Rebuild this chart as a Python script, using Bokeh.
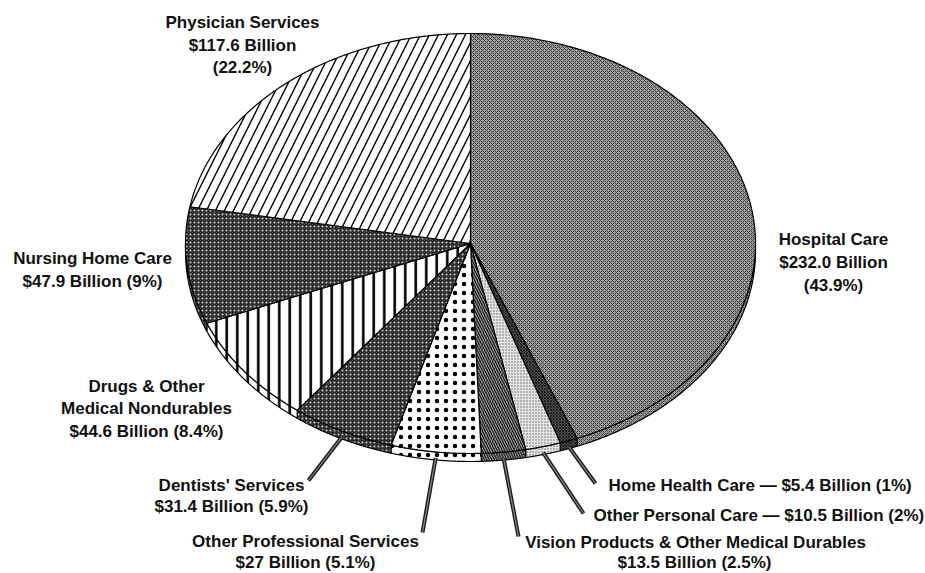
import numpy as np
from bokeh.plotting import figure
from bokeh.models import Range1d, ColumnDataSource
from bokeh.core.properties import value
from bokeh.embed import file_html
from bokeh.resources import INLINE

# ---- data (clockwise from 12 o'clock) ----
categories = ["Hospital Care", "Home Health Care", "Other Personal Care",
              "Vision Products & Other Medical Durables", "Other Professional Services",
              "Dentists' Services", "Drugs & Other Medical Nondurables",
              "Nursing Home Care", "Physician Services"]
billions = [232.0, 5.4, 10.5, 13.5, 27, 31.4, 44.6, 47.9, 117.6]
percents = [43.9, 1, 2, 2.5, 5.1, 5.9, 8.4, 9, 22.2]

# ---- styles ----
fills = ["#9a9a9a", "#4a4a4a", "#e4e4e4", "#b4b4b4", "white", "#2e2e2e", "white", "#2e2e2e", "white"]
hatches = ["x", "x", ".", "\\", ".", ".", "|", ".", "/"]
hcolors = ["#444444", "#222222", "#666666", "#2a2a2a", "black", "#d0d0d0", "black", "#d0d0d0", "black"]
hscales = [4, 3, 3, 5, 9, 4, 10.5, 4, 18]
hweights = [1, 1, 1, 1.6, 2.6, 1, 2.6, 1, 1.4]

# ---- geometry (layout) ----
CX, CY, A, B, D = 470.0, 243.0, 285.0, 210.0, 8.0

def ell(t, dy=0.0):
    return CX + A * np.cos(t), CY - B * np.sin(t) + dy

p = figure(width=925, height=573, x_range=Range1d(0, 925), y_range=Range1d(573, 0),
           output_backend="svg", toolbar_location=None, min_border=0,
           background_fill_color="white", border_fill_color="white")
p.axis.visible = False
p.grid.visible = False
p.outline_line_color = None

frac = np.array(percents) / sum(percents)
cum = np.concatenate([[0], np.cumsum(frac)])
starts = np.pi / 2 - 2 * np.pi * cum[:-1]
ends = np.pi / 2 - 2 * np.pi * cum[1:]

# 3D edge band (lower half)
bx, by, bi = [], [], []
for i, (s, e) in enumerate(zip(starts, ends)):
    ts = np.linspace(e, s, 200)
    ts = np.arctan2(np.sin(ts), np.cos(ts))
    ts = ts[(ts <= 0) & (ts >= -np.pi)]
    if len(ts) < 2:
        continue
    ts = np.sort(ts)
    x1, y1 = ell(ts, D)
    x2, y2 = ell(ts[::-1])
    bx.append(list(x1) + list(x2))
    by.append(list(y1) + list(y2))
    bi.append(i)
p.patches(bx, by, fill_color=[fills[i] for i in bi],
          hatch_pattern=[hatches[i] for i in bi], hatch_color=[hcolors[i] for i in bi],
          hatch_scale=[hscales[i] for i in bi], hatch_weight=[hweights[i] for i in bi],
          line_color="black", line_width=1.2)

# slices
xs, ys = [], []
for s, e in zip(starts, ends):
    ts = np.linspace(s, e, 300)
    x, y = ell(ts)
    xs.append([CX] + list(x))
    ys.append([CY] + list(y))
src = ColumnDataSource(dict(xs=xs, ys=ys, fill=fills, hatch=hatches, hc=hcolors,
                            hs=hscales, hw=hweights))
p.patches("xs", "ys", source=src, fill_color="fill", hatch_pattern="hatch",
          hatch_color="hc", hatch_scale="hs", hatch_weight="hw",
          line_color="black", line_width=1.2)

# leader lines for small / lower slices
leader_idx = [5, 4, 3, 2, 1]
leader_end = [(308, 480), (422, 532), (518, 536), (583, 513), (595, 483)]
lx, ly = [], []
for i, (ex, ey) in zip(leader_idx, leader_end):
    m = (starts[i] + ends[i]) / 2
    sx, sy = ell(m, D - 2)
    lx.append([sx, ex])
    ly.append([sy, ey])
p.multi_line(lx, ly, line_color="#1a1a1a", line_width=4)
p.multi_line(lx, ly, line_color="#8a8a8a", line_width=1.2)

# labels
FONT = value("Liberation Sans")
lab_text = ["Physician Services", "$117.6 Billion", "(22.2%)",
            "Hospital Care", "$232.0 Billion", "(43.9%)",
            "Nursing Home Care", "$47.9 Billion (9%)",
            "Drugs & Other", "Medical Nondurables", "$44.6 Billion (8.4%)",
            "Dentists' Services", "$31.4 Billion (5.9%)",
            "Other Professional Services", "$27 Billion (5.1%)",
            "Vision Products & Other Medical Durables", "$13.5 Billion (2.5%)"]
lab_x = [242, 242, 242, 833, 833, 833, 92, 92, 146, 146, 146, 231, 231, 305, 305, 695, 694]
lab_y = [22, 45, 67, 239, 262, 285, 258, 281, 386, 408, 431, 485, 506, 541, 562, 542, 562]
p.text(lab_x, lab_y, text=lab_text, text_font=FONT,
       text_font_style="bold", text_font_size="17px", text_align="center",
       text_baseline="middle", text_color="#111111")

side_text = ["Home Health Care \u2014 $5.4 Billion (1%)",
             "Other Personal Care \u2014 $10.5 Billion (2%)"]
p.text([608, 593], [485, 515], text=side_text, text_font=FONT,
       text_font_style="bold", text_font_size="17px", text_align="left",
       text_baseline="middle", text_color="#111111")

open("out.html", "w").write(file_html(p, INLINE))
